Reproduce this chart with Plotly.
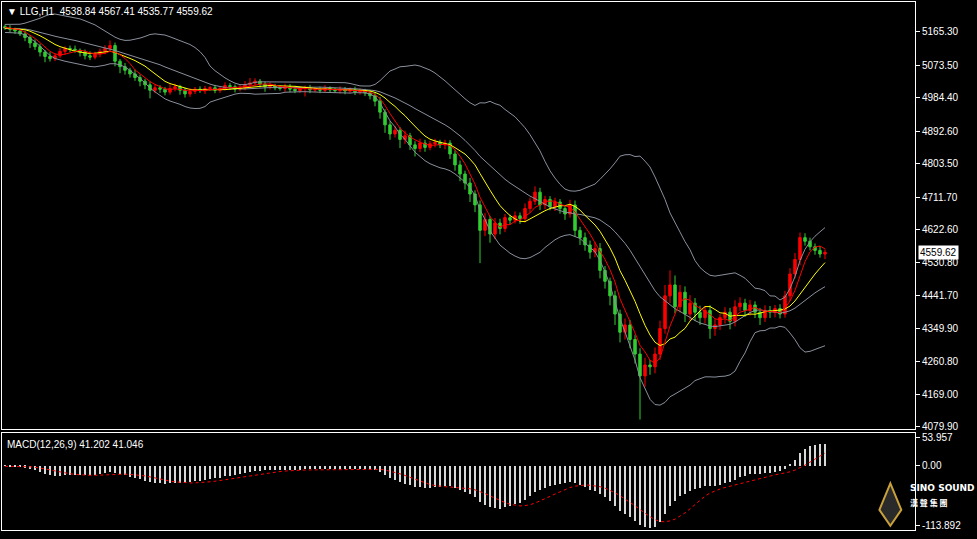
"""MT4-style H1 chart of LLG with Bollinger bands, moving averages and MACD."""

import numpy as np
import pandas as pd
import plotly.graph_objects as go
from plotly.subplots import make_subplots

# warm-up bars (off screen, to the left) followed by the visible bars
warmup_close = [5178, 5182, 5175, 5185, 5190, 5180, 5172, 5168, 5176, 5184,
                5188, 5179, 5170, 5165, 5172, 5180, 5186, 5178, 5171, 5166,
                5174, 5181, 5177, 5170, 5168, 5175, 5182, 5179, 5173, 5180]

visible_close = [
    5176, 5172, 5168, 5160, 5150, 5135, 5125, 5110, 5098, 5092,
    5100, 5112, 5120, 5118, 5115, 5110, 5100, 5096, 5105, 5112,
    5120, 5128, 5085, 5070, 5060, 5050, 5040, 5030, 5020, 5005,
    5012, 5008, 5000, 5010, 5015, 5005, 4995, 5002, 5008, 5004,
    5010, 5012, 5005, 5010, 5018, 5015, 5008, 5012, 5020, 5025,
    5030, 5022, 5015, 5018, 5012, 5010, 5015, 5008, 5004, 5010,
    5012, 5006, 5008, 5005, 5010, 5006, 5004, 5008, 5003, 5006,
    5000, 5004, 4998, 4990, 4975, 4945, 4910, 4885, 4895, 4870,
    4880, 4855, 4845, 4860, 4848, 4858, 4862, 4855, 4860, 4830,
    4800, 4775, 4750, 4720, 4690, 4620, 4650, 4610, 4640, 4625,
    4655, 4648, 4660, 4652, 4680, 4700, 4725, 4690, 4705, 4685,
    4698, 4680, 4665, 4690, 4620, 4600, 4580, 4560, 4570, 4510,
    4480, 4440, 4390, 4340, 4360, 4320, 4280, 4220, 4250, 4245,
    4280, 4350, 4440, 4470, 4410, 4450, 4390, 4420, 4395, 4380,
    4400, 4350, 4360, 4380, 4395, 4370, 4410, 4420, 4400, 4415,
    4395, 4380, 4400, 4395, 4405, 4390, 4440, 4500, 4540, 4600,
    4590, 4575, 4565, 4555, 4559.62,
]

# wick sizes above / below the candle body
wick_up = [
    6, 8, 5, 7, 9, 6, 10, 8, 6, 12, 7, 9, 6, 8, 10, 5, 7, 12, 6, 8,
    9, 14, 8, 6, 10, 7, 12, 8, 6, 9, 10, 7, 6, 12, 8, 5, 7, 9, 6, 8,
    7, 5, 8, 6, 9, 7, 6, 8, 10, 14, 8, 6, 7, 9, 5, 6, 8, 7, 9, 5,
    6, 8, 5, 7, 9, 6, 5, 8, 6, 7, 9, 6, 5, 8, 10, 12, 8, 10, 12, 9,
    14, 8, 10, 12, 9, 8, 10, 7, 9, 8, 10, 12, 9, 14, 10, 12, 18, 10, 14, 12,
    10, 8, 12, 9, 14, 10, 16, 12, 10, 9, 12, 8, 10, 14, 12, 10, 14, 12, 18, 15,
    12, 10, 14, 12, 18, 14, 12, 16, 20, 14, 18, 22, 30, 40, 26, 20, 16, 22, 14, 18,
    12, 14, 16, 10, 14, 12, 18, 16, 12, 14, 10, 12, 14, 12, 10, 12, 14, 16, 18, 14,
    12, 10, 9, 12, 8,
]
wick_dn = [
    5, 7, 8, 6, 10, 14, 9, 12, 16, 8, 7, 6, 9, 8, 7, 12, 10, 8, 6, 9,
    8, 10, 14, 18, 12, 10, 9, 14, 12, 22, 8, 10, 9, 7, 8, 12, 10, 8, 7, 6,
    9, 6, 8, 7, 5, 8, 9, 6, 7, 8, 6, 9, 14, 8, 7, 6, 9, 8, 7, 6,
    22, 9, 6, 8, 5, 7, 6, 8, 9, 6, 8, 7, 9, 10, 14, 18, 22, 16, 10, 24,
    12, 14, 22, 10, 12, 8, 10, 9, 12, 14, 16, 20, 18, 22, 20, 90, 16, 24, 14, 16,
    10, 12, 9, 14, 10, 12, 10, 14, 12, 10, 12, 14, 16, 10, 18, 20, 16, 18, 14, 22,
    20, 26, 30, 28, 20, 24, 26, 120, 30, 22, 18, 16, 14, 20, 18, 16, 22, 18, 24, 20,
    16, 28, 20, 14, 16, 22, 14, 12, 18, 14, 16, 20, 12, 16, 14, 12, 10, 14, 12, 16,
    12, 10, 12, 10, 14,
]

price_ticks = [5165.30, 5073.50, 4984.40, 4892.60, 4803.50, 4711.70, 4622.60,
               4530.80, 4441.70, 4349.90, 4260.80, 4169.00, 4079.90]
macd_ticks = [53.957, 0.0, -113.892]
macd_ticktext = ["53.957", "0.00", "-113.892"]

BG = "#000000"
BAND = "#8a909c"
UP = "#ff0000"
DOWN = "#32cd32"

# build OHLC: open is the previous close
close_all = pd.Series(warmup_close + visible_close, dtype=float)
n_warm = len(warmup_close)
idx = np.arange(len(close_all)) - n_warm
open_all = close_all.shift(1).fillna(close_all.iloc[0] + 4)

close = close_all.iloc[n_warm:].to_numpy()
open_ = open_all.iloc[n_warm:].to_numpy()
x = idx[n_warm:]
body_hi = np.maximum(open_, close)
body_lo = np.minimum(open_, close)
high = body_hi + np.array(wick_up)
low = body_lo - np.array(wick_dn)

# indicators
mid = close_all.rolling(20).mean()
std = close_all.rolling(20).std(ddof=0)
upper = mid + 2 * std
lower = mid - 2 * std
ma_fast = close_all.rolling(5).mean()
ma_slow = close_all.rolling(10).mean()
ema12 = close_all.ewm(span=12, adjust=False).mean()
ema26 = close_all.ewm(span=26, adjust=False).mean()
macd = ema12 - ema26
signal = macd.rolling(9).mean()

vis = slice(n_warm, None)

fig = make_subplots(rows=2, cols=1, shared_xaxes=True)

fig.add_trace(go.Candlestick(
    x=x, open=open_, high=high, low=low, close=close,
    increasing=dict(line=dict(color=UP, width=1), fillcolor=UP),
    decreasing=dict(line=dict(color=DOWN, width=1), fillcolor=DOWN),
    whiskerwidth=0, hoverinfo="skip",
), row=1, col=1)

for band in (upper, mid, lower):
    fig.add_trace(go.Scatter(x=x, y=band.iloc[vis], mode="lines",
                             line=dict(color=BAND, width=1)), row=1, col=1)
fig.add_trace(go.Scatter(x=x, y=ma_slow.iloc[vis], mode="lines",
                         line=dict(color="#ffff00", width=1)), row=1, col=1)
fig.add_trace(go.Scatter(x=x, y=ma_fast.iloc[vis], mode="lines",
                         line=dict(color=UP, width=1)), row=1, col=1)

fig.add_trace(go.Bar(x=x, y=macd.iloc[vis], width=0.2,
                     marker=dict(color="#d8d8d8", line=dict(width=0))), row=2, col=1)
fig.add_trace(go.Scatter(x=x, y=signal.iloc[vis], mode="lines",
                         line=dict(color=UP, width=1, dash="dot")), row=2, col=1)

axis_font = dict(family="Liberation Sans", size=10, color="#ffffff")
common = dict(showgrid=False, zeroline=False, showline=True, linecolor="#ffffff",
              linewidth=1, mirror=True)

fig.update_xaxes(range=[-0.6, 182], showticklabels=False, ticks="", **common)
fig.update_yaxes(side="right", ticks="outside", ticklen=4, tickcolor="#ffffff",
                 tickfont=axis_font, **common)
fig.update_yaxes(range=[4074.3, 5247.7], tickvals=price_ticks,
                 ticktext=[f"{v:.2f}" for v in price_ticks], row=1, col=1)
fig.update_yaxes(range=[-123, 63], tickvals=macd_ticks, ticktext=macd_ticktext,
                 row=2, col=1)

fig.update_layout(
    width=977, height=539,
    margin=dict(l=2, r=62, t=2, b=8),
    paper_bgcolor=BG, plot_bgcolor=BG,
    showlegend=False, bargap=0,
    xaxis_rangeslider_visible=False,
    yaxis=dict(domain=[0.193, 1.0]),
    yaxis2=dict(domain=[0.002, 0.185]),
)

fig.add_annotation(xref="paper", yref="paper", x=0.003, y=0.997, xanchor="left", yanchor="top",
                   text="▼ LLG,H1  4538.84 4567.41 4535.77 4559.62", showarrow=False,
                   font=dict(family="Liberation Sans", size=10, color="#ffffff"))
fig.add_annotation(xref="paper", yref="paper", x=0.003, y=0.177, xanchor="left", yanchor="top",
                   text="MACD(12,26,9) 41.202 41.046", showarrow=False,
                   font=dict(family="Liberation Sans", size=10, color="#ffffff"))

# current price tag on the price axis
fig.add_annotation(xref="paper", yref="y", x=1.0, y=close[-1], xanchor="left", xshift=3,
                   text=f"{close[-1]:.2f}", showarrow=False, bgcolor="#ffffff",
                   font=dict(family="Liberation Sans", size=10, color="#000000"),
                   borderpad=1)

# watermark
fig.add_shape(type="path", xref="paper", yref="paper",
              path="M 0.961 0.04 L 0.973 0.09 L 0.985 0.04 L 0.973 0.01 Z",
              line=dict(color="#c9a13a", width=2), fillcolor="#2a2a2a")
fig.add_annotation(xref="paper", yref="paper", x=0.992, y=0.068, xanchor="left",
                   text="<b>SINO SOUND</b>", showarrow=False,
                   font=dict(family="DejaVu Sans", size=9, color="#ffffff"))
fig.add_annotation(xref="paper", yref="paper", x=0.992, y=0.04, xanchor="left",
                   text="<b>漢 聲 集 團</b>", showarrow=False,
                   font=dict(family="Noto Sans CJK TC", size=8, color="#ffffff"))

fig.write_html("out.html", config={"displayModeBar": False},
               post_script="document.body.style.margin='0';")
